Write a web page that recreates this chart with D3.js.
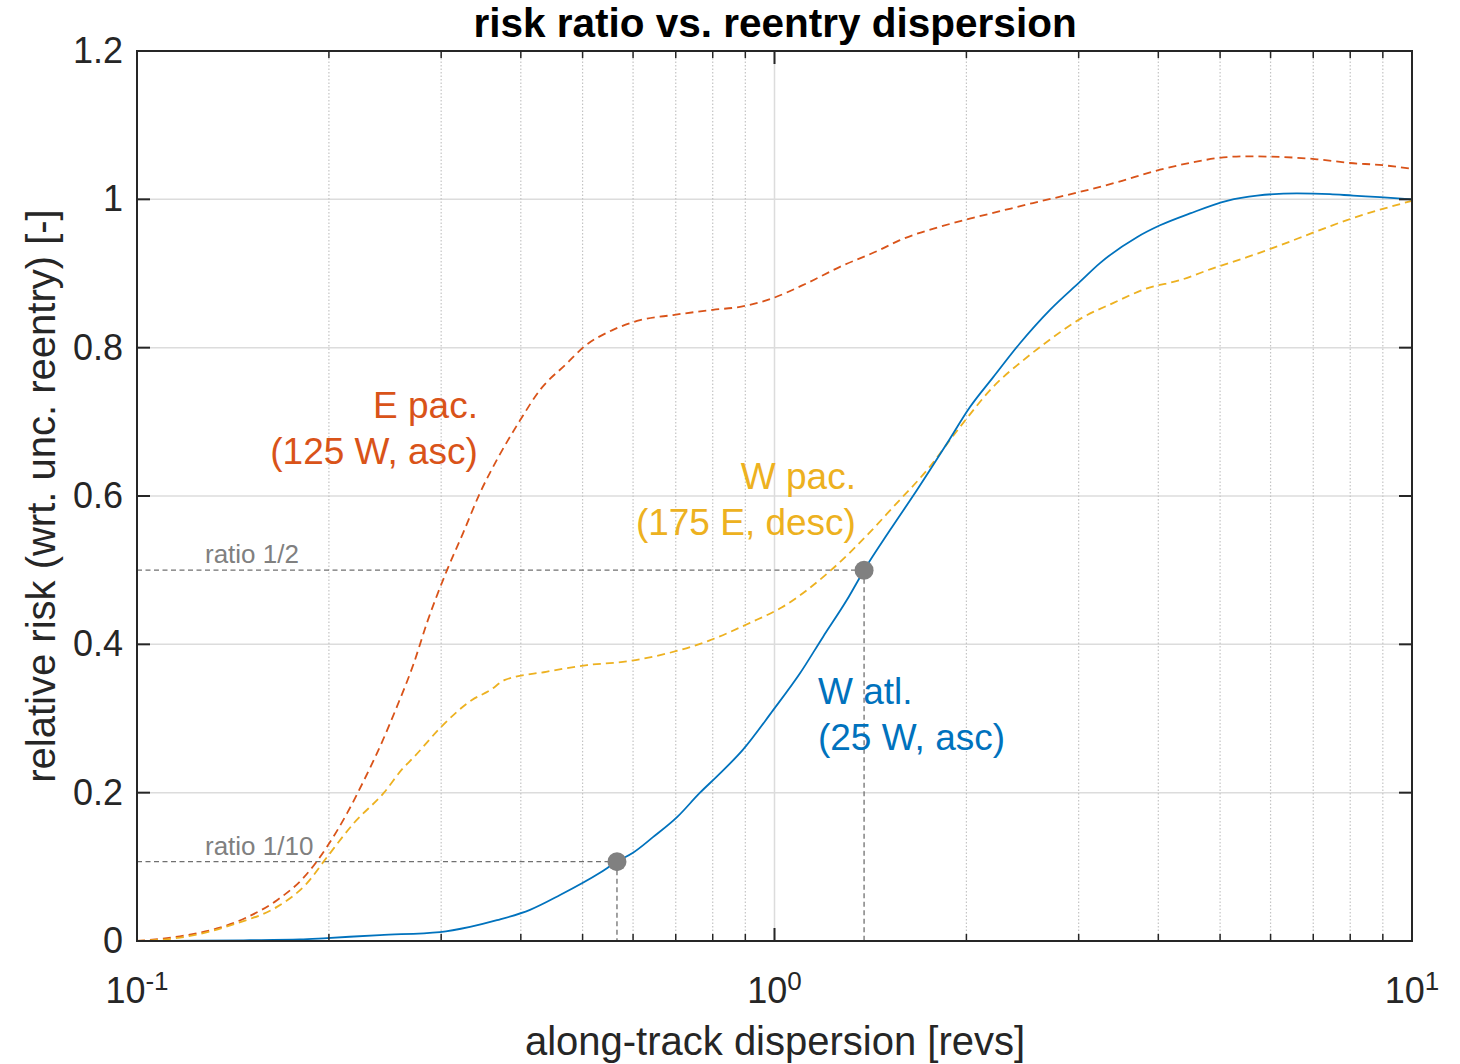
<!DOCTYPE html>
<html><head><meta charset="utf-8">
<script src="https://cdn.jsdelivr.net/npm/d3@7"></script>
<style>
html,body{margin:0;padding:0;background:#fff;}
svg{display:block;font-family:"Liberation Sans",Arial,Helvetica,sans-serif;}
</style></head>
<body><svg id="c" width="1460" height="1064"></svg>
<script>
// ---- data ----
const wAtlX = [0.1,0.1256,0.1504,0.1802,0.1986,0.2405,0.2987,0.3330,0.3670,0.4135,0.4609,0.5324,0.5661,0.5998,0.6447,0.7033,0.7641,0.8124,0.8925,0.9945,1.0965,1.1915,1.2992,1.382,1.518,1.673,1.865,2.026,2.202,2.427,2.705,3.015,3.240,3.703,4.025,4.486,5.126,5.713,6.600,7.436,8.082,8.907,10];
const wAtlY = [0,0.0005,0.001,0.002,0.004,0.008,0.012,0.019,0.028,0.042,0.062,0.092,0.107,0.119,0.14,0.167,0.2,0.222,0.258,0.311,0.361,0.41,0.46,0.5,0.554,0.608,0.671,0.72,0.76,0.806,0.851,0.889,0.914,0.949,0.965,0.981,0.998,1.005,1.008,1.007,1.005,1.003,1.0];

const ePacX = [0.1,0.1198,0.1349,0.1488,0.1658,0.1828,0.1986,0.2135,0.2271,0.2405,0.2557,0.2719,0.2850,0.3064,0.3247,0.3451,0.3670,0.3989,0.4287,0.4727,0.5006,0.5580,0.6152,0.6930,0.8007,0.8829,0.9732,1.1246,1.2667,1.464,1.573,1.818,2.048,2.258,2.544,2.982,3.446,4.025,4.535,5.126,5.510,6.275,7.096,7.993,9.005,10];
const ePacY = [0,0.008,0.018,0.032,0.055,0.086,0.127,0.172,0.217,0.262,0.316,0.375,0.429,0.5,0.55,0.604,0.649,0.702,0.743,0.779,0.8,0.824,0.837,0.844,0.851,0.855,0.864,0.887,0.909,0.932,0.945,0.963,0.975,0.984,0.995,1.009,1.023,1.04,1.05,1.057,1.058,1.057,1.054,1.049,1.046,1.041];

const wPacX = [0.1,0.1198,0.1435,0.1658,0.1848,0.1986,0.2189,0.2440,0.2614,0.2719,0.2987,0.3353,0.3578,0.3778,0.4381,0.5080,0.5870,0.6805,0.7896,0.9154,1.0276,1.2264,1.4218,1.5345,1.735,1.954,2.202,2.489,2.735,3.047,3.396,3.839,4.326,4.873,5.510,6.208,6.994,7.907,8.907,10];
const wPacY = [0,0.006,0.024,0.046,0.078,0.113,0.159,0.2,0.233,0.248,0.287,0.325,0.338,0.352,0.363,0.372,0.377,0.388,0.405,0.429,0.45,0.5,0.554,0.585,0.635,0.693,0.747,0.787,0.814,0.841,0.86,0.88,0.891,0.907,0.922,0.938,0.955,0.972,0.986,0.998];

const ratioLabels = ["ratio 1/2","ratio 1/10"];
const ratioX = [1.382,0.5661];
const ratioY = [0.5,0.107];

const seriesNames = [["E pac.","(125 W, asc)"],["W pac.","(175 E, desc)"],["W atl.","(25 W, asc)"]];
const seriesColors = ["#D95319","#EDB120","#0072BD"];
const labelAnchorX = [0.3426,1.342,1.170];
const labelAnchorY = [0.705,0.609,0.319];

const yTicks = [0,0.2,0.4,0.6,0.8,1,1.2];
const yTickLabels = ["0","0.2","0.4","0.6","0.8","1","1.2"];
const xMajor = [0.1,1,10];
const xExp = ["-1","0","1"];

// ---- layout ----
const L=137,T=51,R=1412,B=941;
const svg=d3.select("#c");
const x=d3.scaleLog().domain([0.1,10]).range([L,R]);
const y=d3.scaleLinear().domain([0,1.2]).range([B,T]);
const axisCol="#262626";

const minors=[];
[0.1,1].forEach(d=>{for(let k=2;k<=9;k++)minors.push(d*k);});

const g=svg.append("g");
// grid
g.selectAll(".hg").data(yTicks.slice(1,-1)).enter().append("line")
 .attr("x1",L).attr("x2",R).attr("y1",d=>y(d)).attr("y2",d=>y(d))
 .attr("stroke","#dcdcdc").attr("stroke-width",1.5);
g.selectAll(".vmg").data(minors).enter().append("line")
 .attr("x1",d=>x(d)).attr("x2",d=>x(d)).attr("y1",T).attr("y2",B)
 .attr("stroke","#c4c4c4").attr("stroke-width",1.2).attr("stroke-dasharray","1.5,2");
g.append("line").attr("x1",x(1)).attr("x2",x(1)).attr("y1",T).attr("y2",B)
 .attr("stroke","#dcdcdc").attr("stroke-width",1.5);

// ratio guides
ratioX.forEach((rx,i)=>{
  g.append("line").attr("x1",L).attr("x2",x(rx)).attr("y1",y(ratioY[i])).attr("y2",y(ratioY[i]))
   .attr("stroke","#707070").attr("stroke-width",1.3).attr("stroke-dasharray","5,3.5");
  g.append("line").attr("x1",x(rx)).attr("x2",x(rx)).attr("y1",y(ratioY[i])).attr("y2",B)
   .attr("stroke","#707070").attr("stroke-width",1.3).attr("stroke-dasharray","5,3.5");
  g.append("text").attr("x",205).attr("y",y(ratioY[i])-7).text(ratioLabels[i])
   .attr("fill","#808080").attr("font-size",26);
});

// curves
const line=d3.line().x(d=>x(d[0])).y(d=>y(d[1])).curve(d3.curveMonotoneX);
const sets=[[ePacX,ePacY,"#D95319","8,5"],[wPacX,wPacY,"#EDB120","8,5"],[wAtlX,wAtlY,"#0072BD",null]];
sets.forEach(s=>{
  const p=g.append("path").datum(d3.zip(s[0],s[1])).attr("d",line)
   .attr("fill","none").attr("stroke",s[2]).attr("stroke-width",1.8);
  if(s[3])p.attr("stroke-dasharray",s[3]);
});

// markers
ratioX.forEach((rx,i)=>{
  g.append("circle").attr("cx",x(rx)).attr("cy",y(ratioY[i])).attr("r",9.5).attr("fill","#808080");
});

// series labels
seriesNames.forEach((nm,i)=>{
  const anchor = i===2 ? "start":"end";
  const t=g.append("text").attr("fill",seriesColors[i]).attr("font-size",37).attr("text-anchor",anchor);
  t.append("tspan").attr("x",x(labelAnchorX[i])).attr("y",y(labelAnchorY[i])).text(nm[0]);
  t.append("tspan").attr("x",x(labelAnchorX[i])).attr("y",y(labelAnchorY[i])+46).text(nm[1]);
});

// box
g.append("rect").attr("x",L).attr("y",T).attr("width",R-L).attr("height",B-T)
 .attr("fill","none").attr("stroke",axisCol).attr("stroke-width",2);

// ticks
yTicks.forEach(v=>{
  g.append("line").attr("x1",L).attr("x2",L+13).attr("y1",y(v)).attr("y2",y(v)).attr("stroke",axisCol).attr("stroke-width",2);
  g.append("line").attr("x1",R).attr("x2",R-13).attr("y1",y(v)).attr("y2",y(v)).attr("stroke",axisCol).attr("stroke-width",2);
});
xMajor.forEach(v=>{
  g.append("line").attr("x1",x(v)).attr("x2",x(v)).attr("y1",B).attr("y2",B-13).attr("stroke",axisCol).attr("stroke-width",2);
  g.append("line").attr("x1",x(v)).attr("x2",x(v)).attr("y1",T).attr("y2",T+13).attr("stroke",axisCol).attr("stroke-width",2);
});
minors.forEach(v=>{
  g.append("line").attr("x1",x(v)).attr("x2",x(v)).attr("y1",B).attr("y2",B-7).attr("stroke",axisCol).attr("stroke-width",1.5);
  g.append("line").attr("x1",x(v)).attr("x2",x(v)).attr("y1",T).attr("y2",T+7).attr("stroke",axisCol).attr("stroke-width",1.5);
});

// tick labels
yTicks.forEach((v,i)=>{
  g.append("text").attr("x",123).attr("y",y(v)+12).attr("text-anchor","end")
   .attr("font-size",36).attr("fill",axisCol).text(yTickLabels[i]);
});
xMajor.forEach((v,i)=>{
  const t=g.append("text").attr("x",x(v)).attr("y",1003).attr("text-anchor","middle")
   .attr("font-size",36).attr("fill",axisCol);
  t.append("tspan").text("10");
  t.append("tspan").attr("font-size",26).attr("dy",-13).text(xExp[i]);
});

// axis labels & title
g.append("text").attr("x",775).attr("y",1055).attr("text-anchor","middle")
 .attr("font-size",40).attr("fill",axisCol).text("along-track dispersion [revs]");
g.append("text").attr("transform","translate(55,496) rotate(-90)").attr("text-anchor","middle")
 .attr("font-size",40).attr("fill",axisCol).text("relative risk (wrt. unc. reentry) [-]");
g.append("text").attr("x",775).attr("y",37).attr("text-anchor","middle")
 .attr("font-size",40.5).attr("font-weight","bold").attr("fill","#000").text("risk ratio vs. reentry dispersion");
</script></body></html>
